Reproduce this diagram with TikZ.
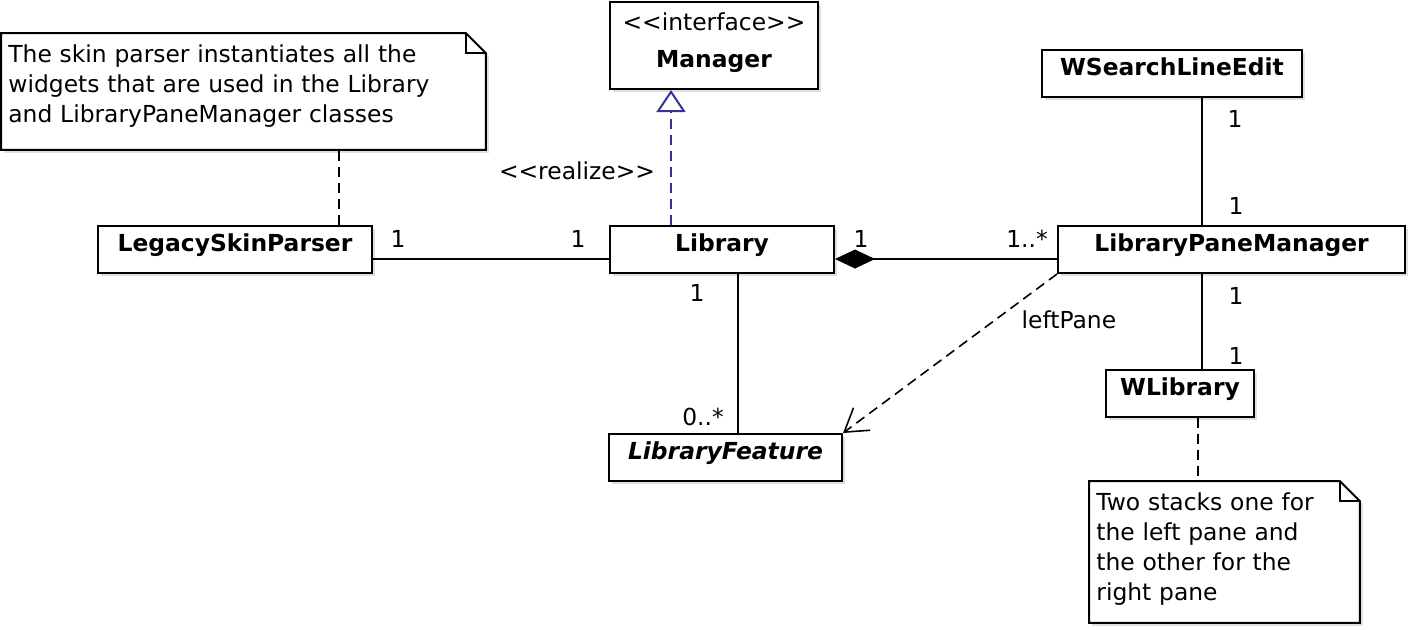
\documentclass[tikz,border=0pt]{standalone}
\usepackage{fontspec}
\newfontfamily\umlfont{DejaVu Sans}
\newcommand\umlsize{\umlfont\fontsize{11.7}{15}\selectfont}
\usetikzlibrary{arrows.meta,shadows,backgrounds}

\definecolor{realizeblue}{RGB}{51,51,153}

\tikzset{
    boxshadow/.style={drop shadow={shadow xshift=1.5pt, shadow yshift=-1.5pt, opacity=0.25}},
    cls/.style={draw, line width=1pt, fill=white, boxshadow, anchor=north west,
        inner xsep=0pt, inner ysep=0pt, text height=12.5pt, text depth=11pt,
        font=\umlsize\bfseries},
    note/.style={anchor=north west, align=left, inner xsep=3.5pt, inner ysep=0pt, text height=14.5pt},
    notebox/.style={draw, line width=1pt, fill=white, boxshadow},
    mult/.style={inner sep=0pt},
    assoc/.style={line width=1pt},
    anchorline/.style={line width=1pt, dash pattern=on 5pt off 3pt},
    realize/.style={line width=1pt, draw=realizeblue, dash pattern=on 5pt off 3pt,
        -{Triangle[open, length=11pt, width=14.5pt, fill=white]}},
    depend/.style={line width=0.8pt, dash pattern=on 5pt off 3pt,
        -{Straight Barb[length=11pt, width=14pt]}},
}

\begin{document}
\begin{tikzpicture}[x=0.5pt, y=-0.5pt, font=\umlsize]

    \useasboundingbox (0,0) rectangle (1409,629);

    % classes
    \node[cls, text width=104pt, align=center, text height=14pt, text depth=29.5pt]
        (mgr) at (609,1) {{\mdseries <<interface>>}\\[3.5pt]Manager};
    \node[cls, minimum width=137pt] (lsp) at (97,225) {LegacySkinParser};
    \node[cls, minimum width=112pt] (lib) at (609,225) {Library};
    \node[cls, minimum width=116.5pt, font=\umlsize\bfseries\itshape] (feat) at (608,433) {LibraryFeature};
    \node[cls, minimum width=130pt] (wsle) at (1041,49) {WSearchLineEdit};
    \node[cls, minimum width=173.5pt] (lpm) at (1057,225) {LibraryPaneManager};
    \node[cls, minimum width=74pt] (wlib) at (1105,369) {WLibrary};

    % notes
    \node[note, text width=235pt, text depth=43.5pt] (skinnote) at (1,33)
        {The skin parser instantiates all the\\widgets that are used in the Library\\and LibraryPaneManager classes};
    \node[note, text width=128pt, text depth=56pt] (panenote) at (1089,481)
        {Two stacks one for\\the left pane and\\the other for the\\right pane};

    \begin{scope}[on background layer]
        \draw[notebox]
            (skinnote.north west) --
            ([xshift=-10pt]skinnote.north east) --
            ([yshift=-10pt]skinnote.north east) --
            (skinnote.south east) --
            (skinnote.south west) -- cycle;
        \draw[line width=1pt]
            ([xshift=-10pt]skinnote.north east) |-
            ([yshift=-10pt]skinnote.north east);
        \draw[notebox]
            (panenote.north west) --
            ([xshift=-10pt]panenote.north east) --
            ([yshift=-10pt]panenote.north east) --
            (panenote.south east) --
            (panenote.south west) -- cycle;
        \draw[line width=1pt]
            ([xshift=-10pt]panenote.north east) |-
            ([yshift=-10pt]panenote.north east);
    \end{scope}

    \draw[anchorline]
        ([xshift=-17pt]lsp.north east) --
        ([xshift=-17pt]lsp.north east |- skinnote.south);
    \draw[anchorline]
        ([xshift=9pt]wlib.south) --
        ([xshift=9pt]wlib.south |- panenote.north);

    % realization
    \draw[realize]
        ([xshift=31pt]lib.north west) --
        ([xshift=31pt]lib.north west |- mgr.south);
    \node[mult] (stereo) at (577,170.5) {<<realize>>};

    % associations
    \draw[assoc]
        ([yshift=7.5pt]lsp.south east) --
        ([yshift=7.5pt]lib.south west);
    \node[mult] (m-lsp) at (398,238.5) {1};
    \node[mult] (m-lib) at (578,238.5) {1};

    \draw[assoc, {Diamond[length=20pt, width=9.5pt]}-]
        ([yshift=7.5pt]lib.south east) --
        ([yshift=7.5pt]lpm.south west);
    \node[mult] (m-whole) at (861,238.5) {1};
    \node[mult] (m-part) at (1027,238.5) {1..*};

    \draw[assoc]
        ([xshift=8pt]lib.south) --
        ([xshift=8pt]lib.south |- feat.north);
    \node[mult] (m-owner) at (697,293) {1};
    \node[mult] (m-feat) at (703,416.5) {0..*};

    \draw[assoc]
        ([xshift=15pt]wsle.south) --
        ([xshift=15pt]wsle.south |- lpm.north);
    \node[mult] (m-search) at (1235,118.5) {1};
    \node[mult] (m-pane-up) at (1236,206) {1};

    \draw[assoc]
        ([xshift=11pt]wlib.north) --
        ([xshift=11pt]wlib.north |- lpm.south);
    \node[mult] (m-pane-down) at (1236,296) {1};
    \node[mult] (m-widget) at (1236,356) {1};

    % dependency
    \draw[depend]
        (lpm.south west) --
        (feat.north east)
        node[mult, pos=0.286, right=12.5pt] (lpane) {leftPane};

\end{tikzpicture}
\end{document}
